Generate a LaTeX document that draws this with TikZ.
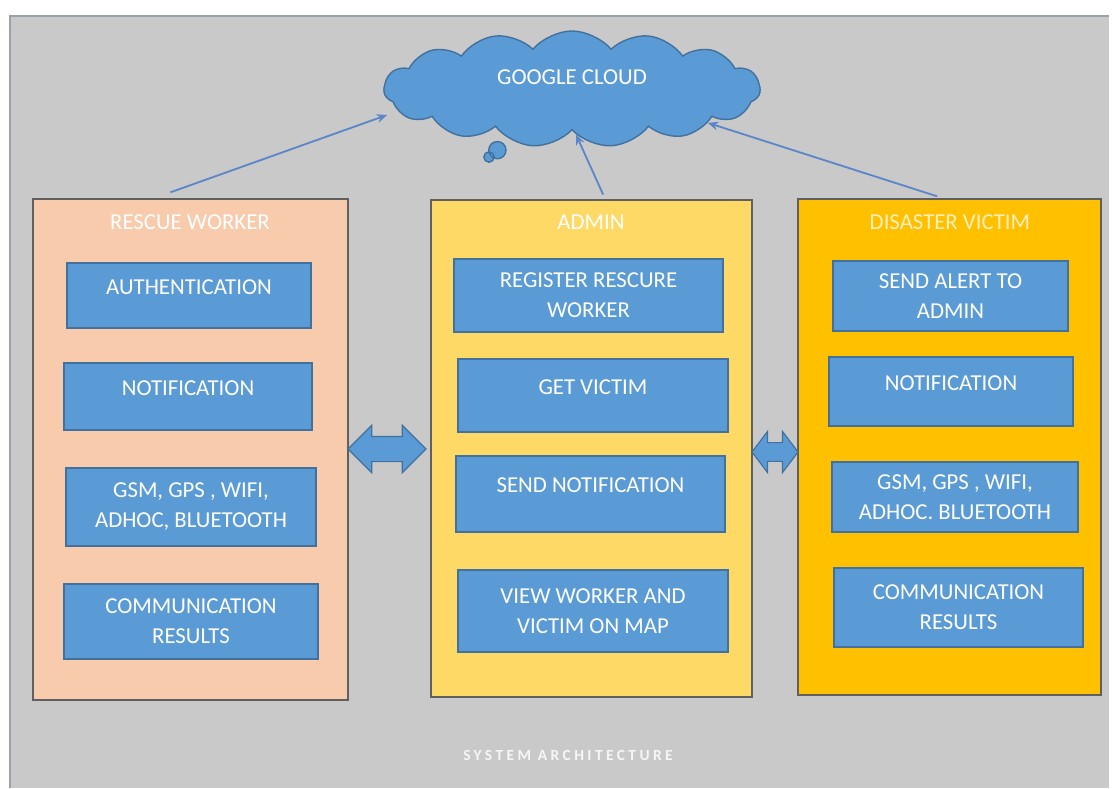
\documentclass[tikz,border=0pt]{standalone}
\usepackage{fontspec}
\setmainfont{Carlito}
\newfontfamily\spacedfont[LetterSpace=22]{Carlito}
\usetikzlibrary{shapes.symbols,shapes.callouts,shapes.arrows,arrows.meta}

\definecolor{bg}{HTML}{C9C9C9}
\definecolor{frame}{HTML}{9AA2A8}
\definecolor{peach}{HTML}{F8CBAD}
\definecolor{sand}{HTML}{FFD966}
\definecolor{amber}{HTML}{FFC000}
\definecolor{steel}{HTML}{5B9BD5}
\definecolor{steeldark}{HTML}{41719C}
\definecolor{wire}{HTML}{5B87C8}

\begin{document}
\begin{tikzpicture}[x=0.025cm,y=-0.025cm,>={Stealth[length=2.6mm,width=2.2mm]},
		font=\fontsize{16.2}{21.3}\selectfont,
		lane/.style 2 args={rectangle,draw=gray!75!black,line width=0.9pt,minimum width=#1cm,minimum height=#2cm},
		task/.style 2 args={rectangle,fill=steel,draw=steeldark,line width=1pt,text=white,align=center,minimum width=#1cm,minimum height=#2cm},
		short/.style={text height=10.5pt,text depth=12.1pt},
		head/.style={text=white},
		link/.style={->,draw=wire,line width=1.3pt},
		fat/.style={double arrow,fill=steel,draw=steeldark,line width=0.8pt,inner sep=0pt}]
			\useasboundingbox (0,0) rectangle (1116,788);
			% slide background
			\fill[bg] (10,16) rectangle (1109,788);
			\draw[frame,line width=1.2pt] (10,788) -- (10,16) -- (1109,16);

			% the three actors
			\node (rw) at (190.5,449.5) [lane={7.875}{12.525},fill=peach] {};
			\node (ad) at (591.5,448.5) [lane={8.025}{12.425},fill=sand] {};
			\node (dv) at (949.5,447) [lane={7.575}{12.4},fill=amber] {};
			\node (rwt) at (190,222) [head] {RESCUE WORKER};
			\node (adt) at (591,222) [head] {ADMIN};
			\node (dvt) at (950,222) [head,text=white!75!amber] {DISASTER VICTIM};

			% rescue worker
			\node (rw1) at (189,295.5) [task={6.1}{1.625},short] {AUTHENTICATION};
			\node (rw2) at (188,396.5) [task={6.2}{1.675},short] {NOTIFICATION};
			\node (rw3) at (191,507) [task={6.25}{1.95}] {GSM, GPS , WIFI,\\ADHOC, BLUETOOTH};
			\node (rw4) at (191,621.5) [task={6.35}{1.875}] {COMMUNICATION\\RESULTS};

			% admin
			\node (ad1) at (588.5,295.5) [task={6.725}{1.825}] {REGISTER RESCURE\\WORKER};
			\node (ad2) at (593,395.5) [task={6.75}{1.825},short] {GET VICTIM};
			\node (ad3) at (590.5,494) [task={6.725}{1.9},short] {SEND NOTIFICATION};
			\node (ad4) at (593,611) [task={6.75}{2.05}] {VIEW WORKER AND\\VICTIM ON MAP};

			% disaster victim
			\node (dv1) at (950.5,296) [task={5.875}{1.75}] {SEND ALERT TO\\ADMIN};
			\node (dv2) at (951,391.5) [task={6.1}{1.725},short] {NOTIFICATION};
			\node (dv3) at (955,497) [task={6.15}{1.75}] {GSM, GPS , WIFI,\\ADHOC. BLUETOOTH};
			\node (dv4) at (958.5,607.5) [task={6.225}{1.975}] {COMMUNICATION\\RESULTS};

			% two-way links between the lanes
			\node (lk1) at (387,449) [fat,minimum height=1.95cm,inner ysep=0.3cm,double arrow head extend=0.28cm] {};
			\node (lk2) at (775,452) [fat,minimum height=1.15cm,inner ysep=0.22cm,double arrow head extend=0.28cm,double arrow tip angle=106] {};

			% cloud
			\node (gc) at (572,89) [cloud callout,cloud puffs=15,cloud puff arc=100,aspect=3.4,
				minimum width=9.4cm,minimum height=2.9cm,fill=steel,draw=steeldark,line width=1pt,text=white,
				text height=10.5pt,text depth=17pt,
				callout absolute pointer={(489,157)},callout pointer segments=2,
				callout pointer start size=0.75cm and 0.6cm,callout pointer end size=0.32cm and 0.26cm]
				{GOOGLE CLOUD\hspace{0.65cm}};
			\draw[link] ([xshift=-0.5cm,yshift=0.15cm]rw.north) -- ([shift={(4,26)}]gc.west);
			\draw[link] ([xshift=0.29cm,yshift=0.12cm]ad.north) -- (gc.275);
			\draw[link] ([xshift=-0.31cm,yshift=0.05cm]dv.north) -- (gc.346);

			\node (cap) at (568,755) [text=white!93!gray,font=\spacedfont\fontsize{11}{13}\selectfont\bfseries] {SYSTEM ARCHITECTURE};
		\end{tikzpicture}
\end{document}
